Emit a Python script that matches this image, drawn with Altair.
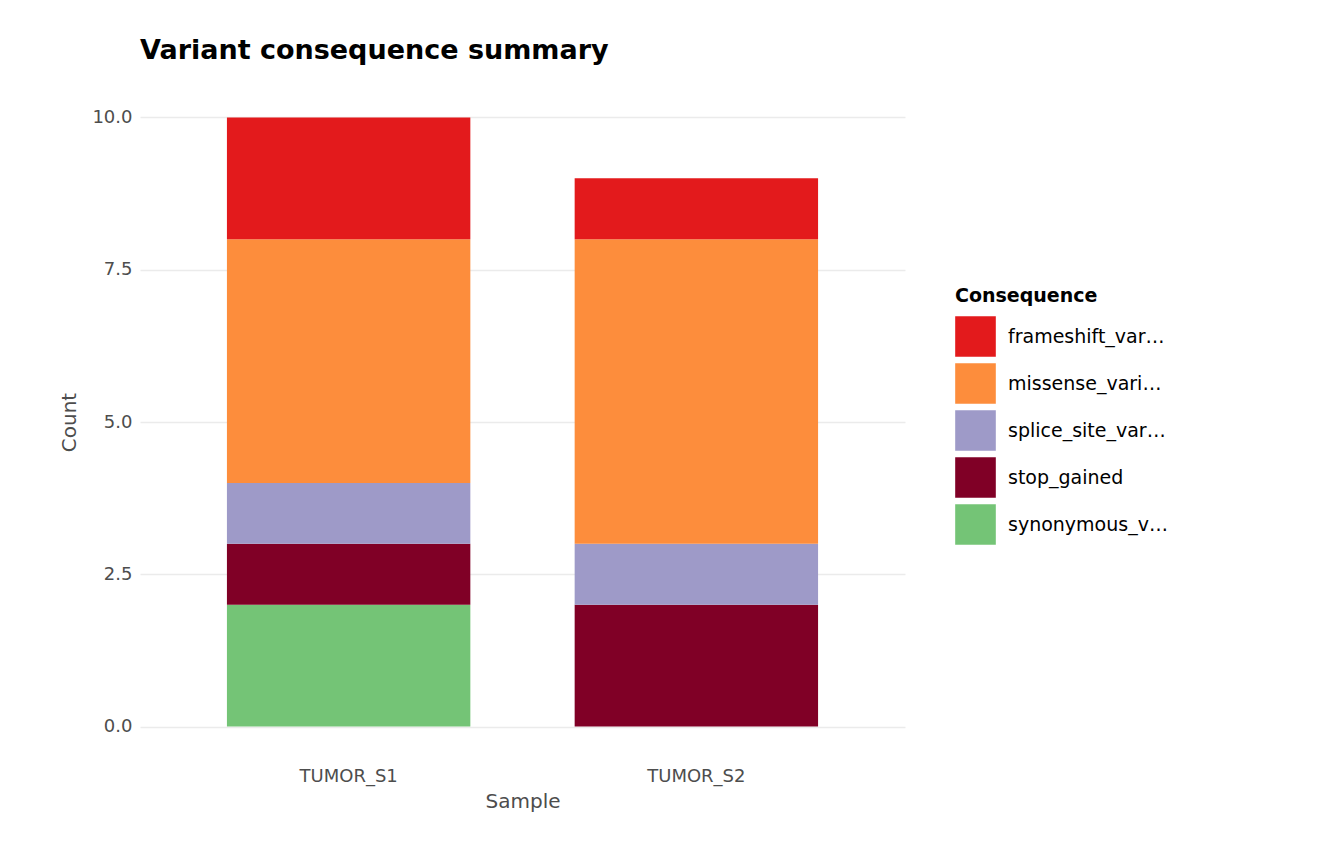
import pandas as pd
import altair as alt

samples = ["TUMOR_S1"] * 5 + ["TUMOR_S2"] * 4
consequences = ["synonymous_variant", "stop_gained", "splice_site_variant", "missense_variant", "frameshift_variant",
                "stop_gained", "splice_site_variant", "missense_variant", "frameshift_variant"]
counts = [2, 1, 1, 4, 2, 2, 1, 5, 1]

legend_order = ["frameshift_variant", "missense_variant", "splice_site_variant", "stop_gained", "synonymous_variant"]
palette = ["#E31A1C", "#FD8D3C", "#9E9AC8", "#800026", "#74C476"]

df = pd.DataFrame({"Sample": samples, "Consequence": consequences, "Count": counts})
df["stack"] = df["Consequence"].map({c: i for i, c in enumerate(legend_order)})

chart = alt.Chart(df).mark_bar().encode(
    x=alt.X("Sample:N", title="Sample",
            scale=alt.Scale(paddingInner=0.3, paddingOuter=0.25),
            axis=alt.Axis(labelAngle=0, bandPosition=0.5, ticks=False, domain=False,
                          labelFontSize=18, labelColor="#4D4D4D", labelPadding=10,
                          titleFontSize=20, titleColor="#4D4D4D", titleFontWeight="normal",
                          titlePadding=6)),
    y=alt.Y("sum(Count):Q", title="Count",
            scale=alt.Scale(domain=[-0.5, 10.5], nice=False, zero=False),
            axis=alt.Axis(values=[0, 2.5, 5, 7.5, 10], format=".1f", ticks=False, domain=False,
                          labelFontSize=18, labelColor="#4D4D4D", labelPadding=8,
                          titleFontSize=20, titleColor="#4D4D4D", titleFontWeight="normal",
                          titlePadding=12)),
    color=alt.Color("Consequence:N", scale=alt.Scale(domain=legend_order, range=palette),
                    legend=alt.Legend(orient="none", legendX=815, legendY=200,
                                      symbolType="square", symbolSize=1650,
                                      symbolStrokeWidth=0, symbolOpacity=1,
                                      labelFontSize=19, titleFontSize=19, titleFontWeight="bold",
                                      titleColor="black", labelColor="black", rowPadding=6,
                                      labelOffset=12, titlePadding=10)),
    order=alt.Order("stack:Q", sort="descending"),
).properties(
    width=765, height=670,
    title=alt.TitleParams("Variant consequence summary", anchor="start", fontSize=27,
                          fontWeight="bold", color="black", offset=22, frame="group"),
    autosize=alt.AutoSizeParams(type="none"),
    padding={"left": 132, "top": 79, "right": 420, "bottom": 90},
).configure(font="DejaVu Sans").configure_view(stroke=None).configure_axis(
    gridColor="#EBEBEB", gridWidth=1.5
)

chart.save("out.html", embed_options={"renderer": "svg", "actions": False})
